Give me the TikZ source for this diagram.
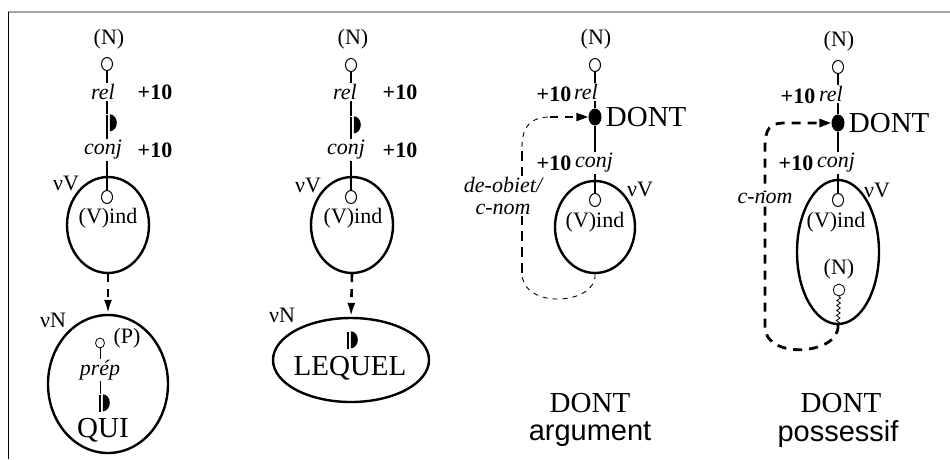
\documentclass[tikz,border=0pt]{standalone}
\usepackage{fontspec}
\setmainfont{Liberation Serif}
\setsansfont{Liberation Sans}
\usetikzlibrary{shapes.geometric,arrows.meta,positioning,decorations.pathmorphing}
\newcommand{\halfdisk}[1]{\fill ([xshift=1.3pt]#1.north east) arc[start angle=90, end angle=-90, x radius=7pt, y radius=8.5pt] -- cycle;}

\begin{document}
\begin{tikzpicture}[x=1pt, y=-1pt,
  txt/.style={font=\fontsize{22}{24}\selectfont, inner sep=1pt},
  itl/.style={font=\fontsize{22}{22}\selectfont\itshape, inner sep=1pt, fill=white},
  pts/.style={font=\fontsize{22}{24}\selectfont\bfseries, inner sep=1pt},
  big/.style={font=\fontsize{29}{32}\selectfont, inner sep=0pt},
  hole/.style={draw, ellipse, line width=1pt, minimum width=11pt, minimum height=13pt, inner sep=0pt},
  dot/.style={fill, ellipse, minimum width=13pt, minimum height=17pt, inner sep=0pt},
  bar/.style={fill, rectangle, minimum width=2.6pt, minimum height=17pt, inner sep=0pt},
  bond/.style={line width=2.7pt},
  oval/.style={draw, ellipse, line width=2.4pt, inner sep=0pt},
  dlink/.style={line width=2.6pt, dash pattern=on 8pt off 7pt},
  tlink/.style={line width=0.9pt, dash pattern=on 5pt off 5pt}]
\useasboundingbox (0,0) rectangle (950,459);
\draw[gray!70, line width=2pt] (8,12) -- (950,12);
\draw[line width=1pt] (8,12) -- (8,459);

\node[txt] (n1) at (109,39) {(N)};
\node[hole] (c1) at (107,64) {};
\node[bar] (h1) at (107,123) {}; \halfdisk{h1}
\node[oval, minimum width=82pt, minimum height=96pt] (vv1) at (108,225) {};
\node[hole] (i1) at (107,197) {};
\draw[bond] (c1) -- (h1) -- (i1);
\node[itl] (rel1) at (103,92) {rel};
\node[itl] (conj1) at (103,150) {conj};
\node[pts] (pa1) at (155,92) {+10};
\node[pts] (pb1) at (155,150) {+10};
\node[txt] (nv1) at (66,183) {νV};
\node[txt] (vi1) at (108,218) {(V)ind};
\node[oval, minimum width=120pt, minimum height=138pt] (vn1) at (108,384) {};
\draw[dlink, -{Latex[length=14pt,width=8pt]}] (vv1.south) -- (vn1.north);
\node[txt] (nu1) at (53,320) {νN};
\node[hole, minimum width=9pt, minimum height=10pt, line width=0.8pt] (p1) at (100,343) {};
\node[txt] (pp1) at (127,338) {(P)};
\node[itl, fill=none] (prep1) at (100,370) {prép};
\node[bar] (h5) at (100,403) {}; \halfdisk{h5}
\draw[line width=0.9pt] (p1) -- (prep1) -- (h5);
\node[big] (qui) at (103,430) {QUI};

\node[txt] (n2) at (353,39) {(N)};
\node[hole] (c2) at (351,65) {};
\node[bar] (h2) at (351,125) {}; \halfdisk{h2}
\node[oval, minimum width=82pt, minimum height=96pt] (vv2) at (352,225) {};
\node[hole] (i2) at (351,197) {};
\draw[bond] (c2) -- (h2) -- (i2);
\node[itl] (rel2) at (345,92) {rel};
\node[itl] (conj2) at (346,150) {conj};
\node[pts] (pa2) at (400,92) {+10};
\node[pts] (pb2) at (400,150) {+10};
\node[txt] (nv2) at (308,185) {νV};
\node[txt] (vi2) at (353,218) {(V)ind};
\node[oval, minimum width=156pt, minimum height=84pt] (vn2) at (351,360) {};
\draw[dlink, -{Latex[length=14pt,width=8pt]}] (vv2.south) -- (vn2.north);
\node[txt] (nu2) at (282,315) {νN};
\node[bar] (h6) at (348,340) {}; \halfdisk{h6}
\node[big] (lq) at (350,368) {LEQUEL};

\node[txt] (n3) at (596,39) {(N)};
\node[hole] (c3) at (595,65) {};
\node[dot] (d3) at (595,117) {};
\node[big, right=4pt of d3] (dont3) {DONT};
\node[oval, minimum width=80pt, minimum height=92pt] (vv3) at (595,227) {};
\node[hole] (i3) at (595,200) {};
\draw[bond] (c3) -- (d3) -- (i3);
\node[itl] (rel3) at (586,92) {rel};
\node[pts] (pa3) at (554,94) {+10};
\node[itl] (conj3) at (594,163) {conj};
\node[pts] (pb3) at (554,163) {+10};
\node[txt] (nv3) at (640,189) {νV};
\node[txt] (vi3) at (595,222) {(V)ind};
\coordinate (k3) at (522,273);
\coordinate (k3b) at (522,147);
\coordinate (k3c) at (550,117);
\draw[tlink] (vv3.south) .. controls (597,305) and (522,310) .. (k3);
\draw[dlink, line width=2pt, dash pattern=on 10pt off 6pt] (k3) -- (k3b);
\draw[tlink] (k3b) .. controls (522,125) and (532,117) .. (k3c);
\draw[dlink, line width=2pt, -{Triangle[length=12pt,width=8pt]}] (k3c) -- (d3);
\node[itl, align=center] (de3) at (503,196) {de-obiet/\\c-nom};
\node[big] (cap3) at (590,403) {DONT};
\node[big, font=\fontsize{29}{32}\selectfont\sffamily] (arg3) at (590,434) {argument};

\node[txt] (n4) at (839,41) {(N)};
\node[hole] (c4) at (838,67) {};
\node[dot] (d4) at (838,123) {};
\node[big, right=4pt of d4] (dont4) {DONT};
\node[oval, minimum width=82pt, minimum height=144pt] (vv4) at (838,252) {};
\node[hole] (i4) at (838,200) {};
\draw[bond] (c4) -- (d4) -- (i4);
\node[itl] (rel4) at (831,94) {rel};
\node[pts] (pa4) at (798,96) {+10};
\node[itl] (conj4) at (836,163) {conj};
\node[pts] (pb4) at (796,163) {+10};
\node[txt] (nv4) at (877,190) {νV};
\node[txt] (vi4) at (836,222) {(V)ind};
\node[txt] (nn4) at (839,269) {(N)};
\node[hole, line width=0.8pt, minimum width=11pt, minimum height=12pt] (p4) at (839,290) {};
\draw[line width=0.8pt, decorate, decoration={snake, amplitude=1.8pt, segment length=5pt}] (p4) -- (vv4.south);
\coordinate (k4) at (765,327);
\coordinate (k4b) at (765,148);
\coordinate (k4c) at (785,123);
\draw[dlink, line width=2.8pt, dash pattern=on 9pt off 7pt, -{Triangle[length=12pt,width=8pt]}] (vv4.south) .. controls (840,355) and (765,360) .. (k4) -- (k4b) .. controls (765,128) and (770,123) .. (k4c) -- (d4);
\node[itl] (cn4) at (765,198) {c-nom};
\node[big] (cap4) at (841,403) {DONT};
\node[big, font=\fontsize{29}{32}\selectfont\sffamily] (arg4) at (838,434) {possessif};
\end{tikzpicture}
\end{document}
